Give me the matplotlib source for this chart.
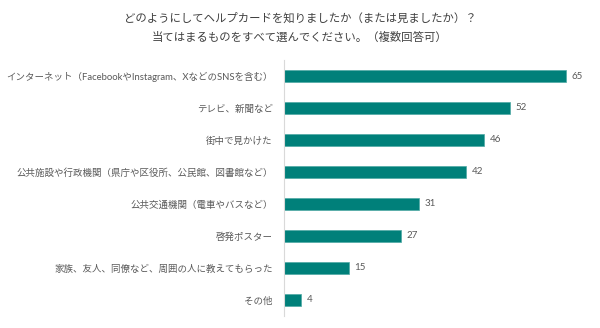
import matplotlib
matplotlib.use('Agg')
import matplotlib.pyplot as plt

plt.rcParams['font.family'] = ['Noto Sans CJK JP', 'DejaVu Sans']

# survey answers, top to bottom
labels = [
    'インターネット（FacebookやInstagram、XなどのSNSを含む）',
    'テレビ、新聞など',
    '街中で見かけた',
    '公共施設や行政機関（県庁や区役所、公民館、図書館など）',
    '公共交通機関（電車やバスなど）',
    '啓発ポスター',
    '家族、友人、同僚など、周囲の人に教えてもらった',
    'その他',
]
counts = [65, 52, 46, 42, 31, 27, 15, 4]
title_lines = [
    'どのようにしてヘルプカードを知りましたか（または見ましたか）？',
    '当てはまるものをすべて選んでください。（複数回答可）',
]

bar_color = '#00807a'
text_color = '#595959'
mixed_font = ['Lato', 'Noto Sans CJK JP', 'DejaVu Sans']

fig = plt.figure(figsize=(6, 3.28), dpi=100)
ax = fig.add_axes([0.473, 0.037, 0.507, 0.78])

ypos = list(range(len(labels)))
ax.barh(ypos, counts, height=0.37, color=bar_color,
        edgecolor='#4fa9a4', linewidth=0.5)
ax.set_ylim(len(labels) - 0.5, -0.5)
ax.set_xlim(0, 70)

for y, v in zip(ypos, counts):
    ax.text(v + 1.3, y, str(v), va='center', ha='left', fontsize=7,
            color=text_color, family=mixed_font)

ax.set_yticks(ypos)
ax.set_yticklabels(labels, fontsize=6.8, color=text_color, family=mixed_font)
ax.tick_params(axis='y', length=0, pad=8)
ax.set_xticks([])

for side in ['top', 'right', 'bottom']:
    ax.spines[side].set_visible(False)
ax.spines['left'].set_color('#d9d9d9')
ax.spines['left'].set_linewidth(0.8)

fig.text(0.5, 0.945, title_lines[0], ha='center', va='center',
         fontsize=8.2, color='#404040')
fig.text(0.5, 0.887, title_lines[1], ha='center', va='center',
         fontsize=8.2, color='#404040')

fig.savefig('out.png', dpi=100, facecolor='white')
